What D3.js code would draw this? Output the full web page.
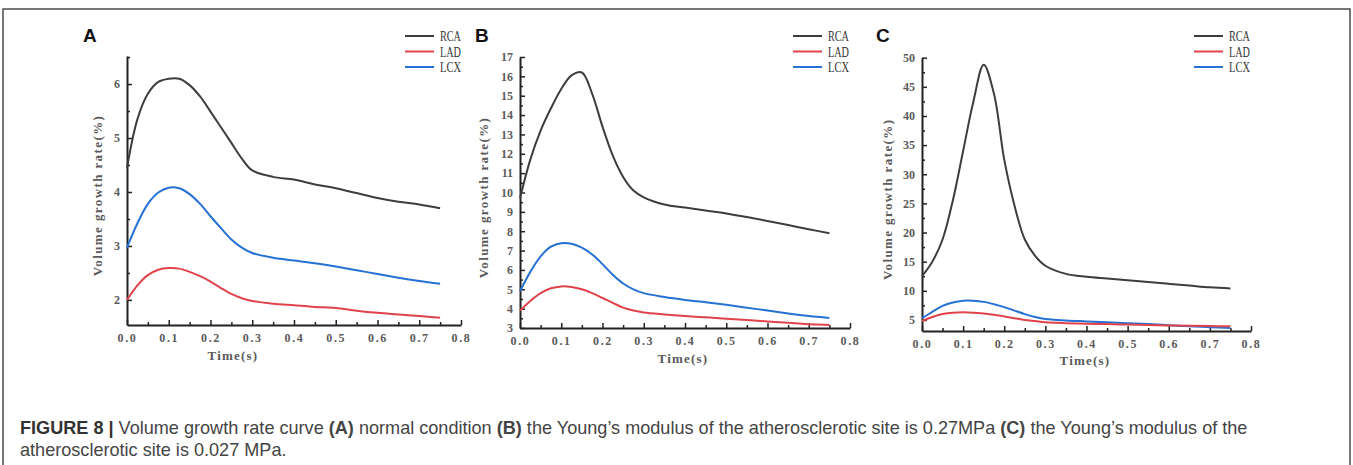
<!DOCTYPE html>
<html>
<head>
<meta charset="utf-8">
<script src="https://cdn.jsdelivr.net/npm/d3@7"></script>
<style>
  body { margin: 0; background: #fff; }
  svg { display: block; }
</style>
</head>
<body>
<svg id="fig" width="1353" height="465"></svg>
<script>
// shared time samples (s)
const time = [0, 0.025, 0.05, 0.075, 0.1, 0.125, 0.15, 0.175, 0.2, 0.225, 0.25, 0.275, 0.3, 0.35, 0.4, 0.45, 0.5, 0.55, 0.6, 0.65, 0.7, 0.75];
const seriesNames = ['RCA', 'LAD', 'LCX'];
const xTicks = [0, 0.1, 0.2, 0.3, 0.4, 0.5, 0.6, 0.7, 0.8];

// panel A - normal condition
const aRCA = [4.45, 5.35, 5.82, 6.04, 6.1, 6.1, 5.98, 5.77, 5.49, 5.2, 4.91, 4.62, 4.4, 4.28, 4.23, 4.14, 4.07, 3.98, 3.89, 3.82, 3.77, 3.70];
const aLAD = [2.0, 2.27, 2.46, 2.56, 2.59, 2.58, 2.52, 2.44, 2.34, 2.22, 2.11, 2.03, 1.98, 1.93, 1.90, 1.87, 1.85, 1.80, 1.76, 1.73, 1.70, 1.67];
const aLCX = [2.97, 3.42, 3.78, 3.99, 4.08, 4.07, 3.96, 3.78, 3.55, 3.33, 3.12, 2.97, 2.87, 2.78, 2.73, 2.68, 2.62, 2.55, 2.48, 2.41, 2.35, 2.30];
const aYTicks = [2, 3, 4, 5, 6];

// panel B - 0.27 MPa
const bRCA = [9.7, 11.7, 13.2, 14.35, 15.35, 16.05, 16.2, 15.1, 13.4, 11.9, 10.8, 10.1, 9.75, 9.38, 9.22, 9.07, 8.92, 8.73, 8.53, 8.32, 8.1, 7.9];
const bLAD = [3.9, 4.4, 4.8, 5.05, 5.15, 5.12, 5.0, 4.8, 4.55, 4.3, 4.05, 3.9, 3.8, 3.7, 3.62, 3.55, 3.48, 3.41, 3.34, 3.27, 3.2, 3.15];
const bLCX = [4.9, 5.9, 6.7, 7.2, 7.38, 7.35, 7.15, 6.8, 6.3, 5.75, 5.3, 5.0, 4.8, 4.6, 4.45, 4.33, 4.2, 4.05, 3.9, 3.75, 3.62, 3.52];
const bYTicks = [3, 4, 5, 6, 7, 8, 9, 10, 11, 12, 13, 14, 15, 16, 17];

// panel C - 0.027 MPa
const cRCA = [12.5, 15.0, 18.8, 25.5, 34, 42.5, 48.8, 43.8, 32.5, 24.6, 18.8, 16.0, 14.3, 12.9, 12.4, 12.1, 11.8, 11.5, 11.2, 10.9, 10.6, 10.4];
const cLAD = [4.8, 5.5, 6.0, 6.25, 6.3, 6.25, 6.1, 5.9, 5.6, 5.3, 5.0, 4.8, 4.6, 4.45, 4.35, 4.28, 4.2, 4.12, 4.05, 4.0, 3.95, 3.9];
const cLCX = [5.3, 6.4, 7.4, 8.0, 8.3, 8.3, 8.1, 7.7, 7.2, 6.6, 6.0, 5.5, 5.15, 4.9, 4.75, 4.6, 4.45, 4.3, 4.1, 3.9, 3.75, 3.6];
const cYTicks = [5, 10, 15, 20, 25, 30, 35, 40, 45, 50];

const COLORS = { RCA: '#3d3d3d', LAD: '#e0434b', LCX: '#2672d4' };
const SERIF = '"Liberation Serif", "DejaVu Serif", serif';

const svg = d3.select('#fig');

// outer frame
svg.append('rect')
  .attr('x', 3).attr('y', 9)
  .attr('width', 1347).attr('height', 470)
  .attr('fill', 'none')
  .attr('stroke', '#4a4a4a')
  .attr('stroke-width', 1.5);

const panels = [
  { letter: 'A', lx: 83, x0: 127, x1: 461, yTop: 56, yBot: 325, yDom: [1.535, 6.52],
    yTicks: aYTicks, yMinor: 0.5, data: { RCA: aRCA, LAD: aLAD, LCX: aLCX },
    legX: 405, yLabX: 97, tLab: [233, 360] },
  { letter: 'B', lx: 475, x0: 520, x1: 850, yTop: 57, yBot: 328, yDom: [3, 17],
    yTicks: bYTicks, yMinor: 0.5, data: { RCA: bRCA, LAD: bLAD, LCX: bLCX },
    legX: 793, yLabX: 483, tLab: [683, 363] },
  { letter: 'C', lx: 876, x0: 922, x1: 1251, yTop: 57.7, yBot: 331, yDom: [3.1, 50],
    yTicks: cYTicks, yMinor: 2.5, data: { RCA: cRCA, LAD: cLAD, LCX: cLCX },
    legX: 1194, yLabX: 887, tLab: [1085, 365] }
];

panels.forEach(drawPanel);

function drawPanel(p) {
  const g = svg.append('g');
  const x = d3.scaleLinear().domain([0, 0.8]).range([p.x0, p.x1]);
  const y = d3.scaleLinear().domain(p.yDom).range([p.yBot, p.yTop]);

  // minor ticks
  const xMinor = d3.range(0.05, 0.8, 0.1);
  const yMin = d3.range(Math.ceil(p.yDom[0] / p.yMinor) * p.yMinor, p.yDom[1] + 1e-6, p.yMinor)
    .filter(v => !p.yTicks.some(t => Math.abs(t - v) < 1e-6));

  const xAxis = d3.axisBottom(x).tickValues(xTicks).tickSizeInner(-5).tickSizeOuter(0)
    .tickPadding(8).tickFormat(d3.format('.1f'));
  const yAxis = d3.axisLeft(y).tickValues(p.yTicks).tickSizeInner(-5).tickSizeOuter(0)
    .tickPadding(7).tickFormat(d3.format('d'));

  const gx = g.append('g').attr('transform', `translate(0,${p.yBot})`).call(xAxis);
  const gy = g.append('g').attr('transform', `translate(${p.x0},0)`).call(yAxis);

  g.append('g').attr('transform', `translate(0,${p.yBot})`)
    .call(d3.axisBottom(x).tickValues(xMinor).tickSizeInner(-3).tickSizeOuter(0).tickFormat(''))
    .select('.domain').remove();
  g.append('g').attr('transform', `translate(${p.x0},0)`)
    .call(d3.axisLeft(y).tickValues(yMin).tickSizeInner(-3).tickSizeOuter(0).tickFormat(''))
    .select('.domain').remove();

  g.selectAll('.domain').attr('stroke', '#222').attr('stroke-width', 2);
  g.selectAll('.tick line').attr('stroke', '#222').attr('stroke-width', 1.5);
  g.selectAll('.tick text')
    .attr('font-family', SERIF)
    .attr('font-size', 12)
    .attr('font-weight', 'bold')
    .attr('fill', '#5a5a5a');
  gx.selectAll('.tick text').attr('dy', '0.75em').attr('letter-spacing', 1.6);

  // curves
  const line = d3.line()
    .x((d, i) => x(time[i]))
    .y(d => y(d))
    .curve(d3.curveCatmullRom.alpha(0.5));

  ['RCA', 'LCX', 'LAD'].forEach(name => {
    g.append('path')
      .datum(p.data[name])
      .attr('d', line)
      .attr('fill', 'none')
      .attr('stroke', COLORS[name])
      .attr('stroke-width', 2);
  });

  // legend
  seriesNames.forEach((name, i) => {
    const ly = 36 + i * 15.5;
    g.append('line')
      .attr('x1', p.legX).attr('x2', p.legX + 29)
      .attr('y1', ly).attr('y2', ly)
      .attr('stroke', COLORS[name]).attr('stroke-width', 2);
    g.append('text')
      .attr('x', p.legX + 35).attr('y', ly + 5)
      .attr('font-family', SERIF)
      .attr('font-size', 14.5)
      .attr('fill', '#333')
      .attr('textLength', 21)
      .attr('lengthAdjust', 'spacingAndGlyphs')
      .text(name);
  });

  // axis titles
  g.append('text')
    .attr('transform', `translate(${p.yLabX},${(p.yTop + p.yBot) / 2 + 5}) rotate(-90)`)
    .attr('text-anchor', 'middle')
    .attr('dy', '0.35em')
    .attr('font-family', SERIF)
    .attr('font-size', 13)
    .attr('font-weight', 'bold')
    .attr('letter-spacing', 1.4)
    .attr('fill', '#5a5a5a')
    .text('Volume growth rate(%)');
  g.append('text')
    .attr('x', p.tLab[0]).attr('y', p.tLab[1])
    .attr('text-anchor', 'middle')
    .attr('font-family', SERIF)
    .attr('font-size', 13)
    .attr('font-weight', 'bold')
    .attr('letter-spacing', 1.2)
    .attr('fill', '#5a5a5a')
    .text('Time(s)');

  // panel letter
  g.append('text')
    .attr('x', p.lx).attr('y', 42)
    .attr('font-family', '"Liberation Sans", Arial, sans-serif')
    .attr('font-size', 19)
    .attr('font-weight', 'bold')
    .attr('fill', '#111')
    .text(p.letter);
}

// caption
const cap = svg.append('g')
  .attr('font-family', '"Liberation Sans", Arial, sans-serif')
  .attr('font-size', 18.1)
  .attr('fill', '#444');
const line1 = cap.append('text').attr('x', 20).attr('y', 434);
line1.append('tspan').attr('font-weight', 'bold').attr('fill', '#333').text('FIGURE 8 | ');
line1.append('tspan').text('Volume growth rate curve ');
line1.append('tspan').attr('font-weight', 'bold').text('(A)');
line1.append('tspan').text(' normal condition ');
line1.append('tspan').attr('font-weight', 'bold').text('(B)');
line1.append('tspan').text(' the Young\u2019s modulus of the atherosclerotic site is 0.27MPa ');
line1.append('tspan').attr('font-weight', 'bold').text('(C)');
line1.append('tspan').text(' the Young\u2019s modulus of the');
cap.append('text').attr('x', 20).attr('y', 456).text('atherosclerotic site is 0.027 MPa.');
</script>
</body>
</html>
